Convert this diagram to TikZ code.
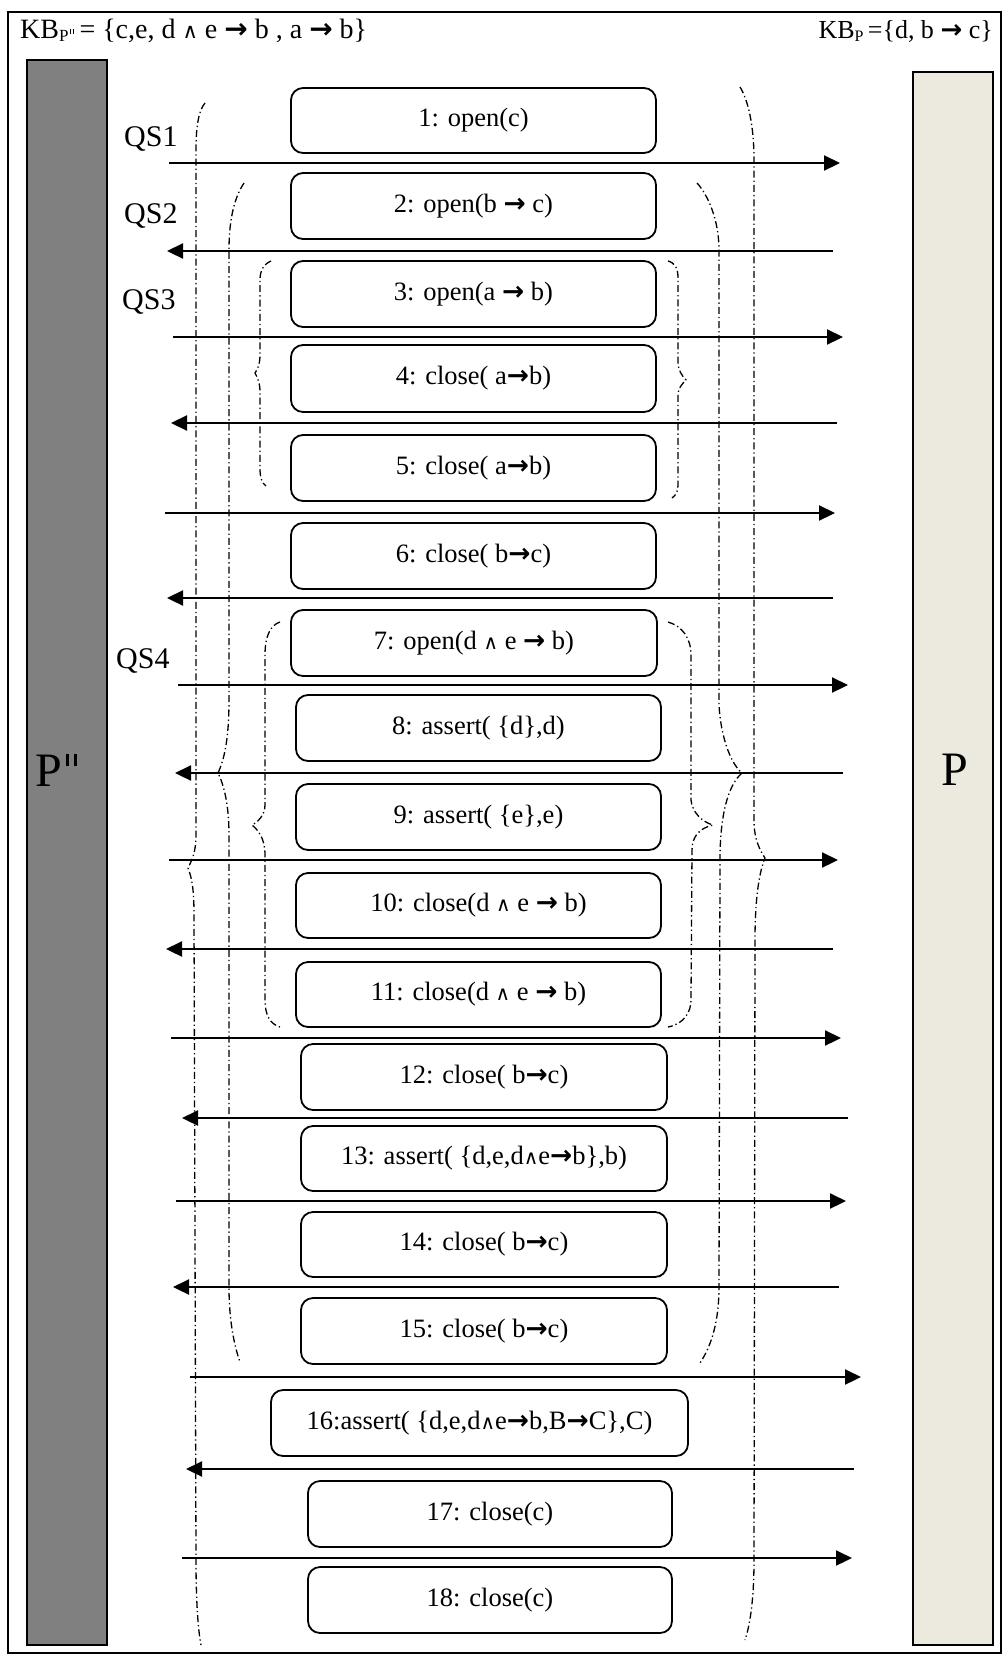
\documentclass[tikz,border=0pt]{standalone}
\usepackage{fontspec}
\setmainfont{Liberation Serif}
\newfontfamily\arfont{DejaVu Sans Bold}
\newfontfamily\symfont{DejaVu Sans}[Scale=0.75]
\usetikzlibrary{arrows.meta}
\newcommand\ar{{\arfont →}}
\newcommand\lnd{{\symfont ∧}}
\newcommand\dq{\kern0.07em\rule[0.43em]{0.065em}{0.25em}\kern0.1em\rule[0.43em]{0.065em}{0.25em}\kern0.07em}
\definecolor{barP}{RGB}{236,233,223}
\definecolor{barPP}{RGB}{128,128,128}
\tikzset{
  msg/.style={draw, line width=1.8pt, rounded corners=12pt, fill=white, inner sep=0pt,
    font=\fontsize{26.5}{30}\selectfont},
  msgline/.style={line width=2.2pt, -{Triangle[length=16pt,width=15pt]}},
  qs/.style={line width=1.3pt, dash pattern=on 7pt off 3pt on 1.3pt off 3pt},
  qslabel/.style={anchor=base west, inner sep=0pt, font=\fontsize{30}{34}\selectfont},
  lifebar/.style={draw, line width=1.5pt},
  barlabel/.style={font=\fontsize{48}{52}\selectfont, inner sep=0pt}
}
\newcommand\msgbox[6]{% name, left, right, top, bottom, text
  \node[msg, minimum width={#3-#2}, minimum height={#5-#4}] (#1) at ({(#2+#3)/2},{(#4+#5)/2}) {#6};}
\newcommand\marrow[5]{% name, y, xleft, xright, dir(R/L)
  \coordinate (#1l) at (#3,#2); \coordinate (#1r) at (#4,#2);
  \if#5R\draw[msgline] (#1l) -- (#1r);\else\draw[msgline] (#1r) -- (#1l);\fi}
\begin{document}
\begin{tikzpicture}[x=1pt,y=-1pt]
\useasboundingbox (0,0) rectangle (1005,1658);
% frame
\draw[line width=2pt] (8,12) rectangle (1001,1653);
% life bars
\draw[lifebar, fill=barPP] (27,60) rectangle (107,1645);
\draw[lifebar, fill=barP] (913,72) rectangle (993,1645);
\node[barlabel] (pp) at (58,770) {P\dq};
\node[barlabel] (p) at (955,770) {P};
% KB texts
\node[anchor=base west, inner sep=0pt, font=\fontsize{28}{30}\selectfont] (kbl) at (20,38)
  {KB\raisebox{-3pt}{\fontsize{17}{17}\selectfont P\dq}\,= \{c,e, d \lnd{} e \ar{} b , a \ar{} b\}};
\node[anchor=base east, inner sep=0pt, font=\fontsize{26}{30}\selectfont] (kbr) at (993,38)
  {KB\raisebox{-3pt}{\fontsize{16}{16}\selectfont P}\,=\{d, b \ar{} c\}};
% QS labels
\node[qslabel] (qs1) at (124,146) {QS1};
\node[qslabel] (qs2) at (124,223) {QS2};
\node[qslabel] (qs3) at (122,309) {QS3};
\node[qslabel] (qs4) at (116,668) {QS4};
% braces (dash-dot)
\draw[qs] (205,103) .. controls (199,110) and (196,125) .. (196,150) -- (196,835)
  .. controls (196,852) and (192,860) .. (188,868) .. controls (192,878) and (194,890) .. (194,915)
  -- (196,1560) .. controls (196,1600) and (198,1630) .. (201,1645);
\draw[qs] (740,87) .. controls (748,100) and (754,125) .. (754,160) -- (754,820)
  .. controls (754,840) and (760,850) .. (765,858) .. controls (758,875) and (755,905) .. (755,940)
  -- (754,1560) .. controls (754,1600) and (750,1625) .. (745,1640);
\draw[qs] (244,183) .. controls (236,195) and (229,215) .. (229,250) -- (229,700)
  .. controls (229,740) and (224,760) .. (218,773) .. controls (224,785) and (229,805) .. (229,835)
  -- (229,1287) .. controls (229,1320) and (234,1345) .. (240,1362);
\draw[qs] (697,183) .. controls (708,195) and (719,220) .. (719,250) -- (719,705)
  .. controls (721,740) and (732,765) .. (742,773) .. controls (728,785) and (720,815) .. (720,860)
  -- (719,1287) .. controls (719,1320) and (712,1345) .. (700,1363);
\draw[qs] (271,261) .. controls (264,264) and (260,270) .. (260,280) -- (260,355)
  .. controls (260,365) and (257,370) .. (255,373) .. controls (257,377) and (260,382) .. (260,392)
  -- (260,468) .. controls (260,478) and (262,483) .. (266,486);
\draw[qs] (668,261) .. controls (675,263) and (678,268) .. (678,278) -- (678,362)
  .. controls (678,370) and (682,376) .. (686,380) .. controls (682,384) and (678,388) .. (678,396)
  -- (678,485) .. controls (678,492) and (676,495) .. (672,498);
\draw[qs] (280,622) .. controls (271,625) and (265,635) .. (265,655) -- (265,805)
  .. controls (265,815) and (258,822) .. (252,825) .. controls (258,830) and (265,838) .. (265,855)
  -- (265,1000) .. controls (265,1015) and (270,1024) .. (280,1027);
\draw[qs] (668,622) .. controls (682,626) and (691,638) .. (691,655) -- (691,800)
  .. controls (692,812) and (702,822) .. (713,825) .. controls (700,828) and (692,836) .. (692,850)
  -- (691,1000) .. controls (691,1012) and (684,1024) .. (668,1027);
% message arrows
\marrow{a1}{163}{169}{840}{R}
\marrow{a2}{251}{167}{833}{L}
\marrow{a3}{337}{173}{843}{R}
\marrow{a4}{423}{171}{837}{L}
\marrow{a5}{513}{165}{835}{R}
\marrow{a6}{598}{167}{833}{L}
\marrow{a7}{685}{178}{848}{R}
\marrow{a8}{773}{175}{843}{L}
\marrow{a9}{860}{169}{838}{R}
\marrow{a10}{949}{166}{833}{L}
\marrow{a11}{1038}{171}{841}{R}
\marrow{a12}{1118}{182}{848}{L}
\marrow{a13}{1201}{176}{846}{R}
\marrow{a14}{1287}{173}{839}{L}
\marrow{a15}{1377}{190}{861}{R}
\marrow{a16}{1469}{186}{854}{L}
\marrow{a17}{1558}{182}{852}{R}
% message boxes
\msgbox{b1}{291}{656}{88}{153}{1: open(c)}
\msgbox{b2}{291}{656}{173}{239}{2: open(b \ar{} c)}
\msgbox{b3}{291}{656}{261}{327}{3: open(a \ar{} b)}
\msgbox{b4}{291}{656}{345}{412}{4: close( a\ar{}b)}
\msgbox{b5}{291}{656}{435}{501}{5: close( a\ar{}b)}
\msgbox{b6}{291}{656}{523}{589}{6: close( b\ar{}c)}
\msgbox{b7}{291}{657}{610}{676}{7: open(d \lnd{} e \ar{} b)}
\msgbox{b8}{296}{661}{695}{761}{8: assert( \{d\},d)}
\msgbox{b9}{296}{661}{784}{850}{9: assert( \{e\},e)}
\msgbox{b10}{296}{661}{873}{938}{10: close(d \lnd{} e \ar{} b)}
\msgbox{b11}{296}{661}{962}{1027}{11: close(d \lnd{} e \ar{} b)}
\msgbox{b12}{301}{667}{1044}{1110}{12: close( b\ar{}c)}
\msgbox{b13}{301}{667}{1126}{1191}{13: assert( \{d,e,d\lnd{}e\ar{}b\},b)}
\msgbox{b14}{301}{667}{1212}{1277}{14: close( b\ar{}c)}
\msgbox{b15}{301}{667}{1298}{1364}{15: close( b\ar{}c)}
\msgbox{b16}{271}{688}{1390}{1456}{16:assert( \{d,e,d\lnd{}e\ar{}b,B\ar{}C\},C)}
\msgbox{b17}{308}{672}{1481}{1547}{17: close(c)}
\msgbox{b18}{308}{672}{1567}{1633}{18: close(c)}
\end{tikzpicture}
\end{document}
